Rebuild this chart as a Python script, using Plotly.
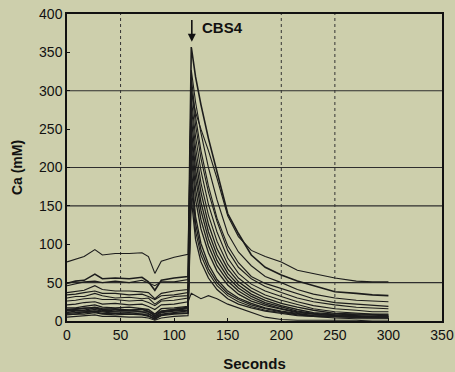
import plotly.graph_objects as go

# time points (seconds)
t_pre = [0, 8, 16, 26, 33, 45, 58, 70, 76, 82, 88, 100, 113]
t_post = [116, 120, 125, 132, 140, 150, 160, 172, 185, 200, 215, 230, 250, 270, 285, 300]

# Ca (mM) series, pre-stimulus values then post-stimulus values
ca_a_pre = [77, 80, 84, 93, 86, 88, 88, 89, 84, 62, 78, 83, 87]
ca_a_post = [300, 272, 250, 222, 186, 137, 110, 92, 84, 77, 66, 62, 56, 52, 51, 51]
ca_b_pre = [49, 52, 53, 61, 55, 56, 55, 57, 51, 40, 53, 56, 58]
ca_b_post = [357, 318, 282, 238, 196, 140, 114, 86, 70, 60, 52, 46, 38, 36, 34, 33]
ca_c_pre = [46, 48, 51, 52, 50, 52, 50, 53, 50, 46, 51, 51, 54]
ca_c_post = [327, 285, 245, 200, 158, 114, 90, 72, 58, 50, 41, 35, 30, 27, 26, 25]
ca_d_pre = [37, 39, 40, 46, 41, 39, 39, 38, 37, 29, 36, 39, 41]
ca_d_post = [318, 266, 222, 176, 134, 98, 76, 58, 49, 42, 36, 29, 24, 22, 20, 19]
ca_e_pre = [34, 35, 37, 39, 36, 36, 34, 35, 32, 28, 33, 34, 37]
ca_e_post = [305, 255, 212, 168, 130, 92, 70, 55, 45, 37, 30, 25, 21, 18, 17, 16]
ca_f_pre = [30, 32, 32, 36, 33, 30, 31, 29, 30, 22, 28, 32, 33]
ca_f_post = [290, 240, 196, 152, 116, 82, 62, 48, 39, 32, 25, 20, 16, 14, 12, 12]
ca_g_pre = [26, 27, 29, 30, 28, 28, 26, 27, 24, 20, 26, 27, 30]
ca_g_post = [280, 226, 180, 138, 104, 74, 56, 43, 34, 27, 21, 16, 12, 10, 9, 9]
ca_q_pre = [21, 22, 24, 25, 22, 23, 21, 22, 19, 15, 21, 22, 25]
ca_q_post = [36, 33, 29, 33, 29, 22, 17, 11, 5, 2, 1, 1, 1, 1, 0, 0]
ca_h_pre = [17, 17, 19, 21, 18, 17, 18, 16, 15, 9, 16, 17, 19]
ca_h_post = [265, 212, 168, 126, 94, 68, 51, 39, 30, 23, 18, 14, 10, 9, 8, 8]
ca_i_pre = [14, 15, 17, 17, 15, 16, 14, 15, 13, 6, 13, 15, 18]
ca_i_post = [250, 198, 155, 116, 86, 62, 47, 35, 27, 20, 15, 11, 9, 8, 7, 7]
ca_j_pre = [13, 14, 14, 17, 14, 13, 14, 12, 12, 7, 12, 14, 16]
ca_j_post = [240, 186, 144, 107, 79, 57, 43, 32, 24, 18, 13, 10, 8, 7, 6, 6]
ca_k_pre = [11, 13, 13, 15, 13, 12, 12, 12, 10, 4, 11, 13, 14]
ca_k_post = [228, 172, 132, 98, 72, 52, 39, 29, 22, 16, 12, 9, 7, 6, 5, 5]
ca_l_pre = [10, 11, 12, 13, 12, 10, 11, 9, 9, 5, 9, 11, 13]
ca_l_post = [215, 158, 120, 89, 65, 47, 35, 26, 20, 15, 11, 9, 7, 6, 6, 6]
ca_m_pre = [9, 9, 11, 12, 10, 10, 9, 9, 7, 2, 8, 10, 11]
ca_m_post = [200, 136, 101, 74, 54, 39, 30, 23, 17, 13, 10, 7, 6, 5, 4, 4]
ca_n_pre = [15, 16, 16, 18, 16, 15, 14, 15, 12, 9, 13, 15, 17]
ca_n_post = [188, 127, 93, 68, 50, 36, 28, 21, 16, 12, 9, 7, 6, 5, 5, 5]
ca_o_pre = [5, 6, 7, 8, 6, 6, 5, 5, 4, 1, 4, 6, 7]
ca_o_post = [175, 117, 86, 63, 46, 33, 25, 19, 14, 11, 8, 6, 4, 3, 3, 3]
ca_p_pre = [8, 9, 9, 11, 9, 8, 9, 8, 6, 3, 7, 9, 10]
ca_p_post = [160, 106, 77, 56, 41, 29, 22, 17, 13, 10, 7, 6, 5, 4, 4, 4]

series = [
    (ca_a_pre, ca_a_post, 1.1), (ca_b_pre, ca_b_post, 1.6), (ca_c_pre, ca_c_post, 1.1),
    (ca_d_pre, ca_d_post, 1.1), (ca_e_pre, ca_e_post, 1.1), (ca_f_pre, ca_f_post, 1.1),
    (ca_g_pre, ca_g_post, 1.1), (ca_q_pre, ca_q_post, 1.1), (ca_h_pre, ca_h_post, 1.3),
    (ca_i_pre, ca_i_post, 1.3), (ca_j_pre, ca_j_post, 1.3), (ca_k_pre, ca_k_post, 1.3),
    (ca_l_pre, ca_l_post, 1.3), (ca_m_pre, ca_m_post, 1.3), (ca_n_pre, ca_n_post, 1.3),
    (ca_o_pre, ca_o_post, 1.1), (ca_p_pre, ca_p_post, 1.3),
]

x_ticks = [0, 50, 100, 150, 200, 250, 300, 350]
y_ticks = [0, 50, 100, 150, 200, 250, 300, 350, 400]
h_grid = [50, 150, 200, 300]
v_grid = [50, 200, 250]

BG = "#cdcfac"
FONT = "Liberation Sans, Arial, sans-serif"

fig = go.Figure()
for pre, post, w in series:
    fig.add_trace(go.Scatter(x=t_pre + t_post, y=pre + post, mode="lines",
                             line=dict(color="#1c1c1c", width=w), showlegend=False,
                             hoverinfo="skip"))

shapes = []
for yv in h_grid:
    shapes.append(dict(type="line", xref="x", yref="y", x0=0, x1=350, y0=yv, y1=yv,
                       line=dict(color="#2e2e2e", width=1.2), layer="below"))
for xv in v_grid:
    shapes.append(dict(type="line", xref="x", yref="y", x0=xv, x1=xv, y0=0, y1=400,
                       line=dict(color="#333333", width=1, dash="dot"), layer="below"))

fig.update_layout(
    width=455, height=372,
    margin=dict(l=67, r=13, t=14, b=51, autoexpand=False),
    paper_bgcolor=BG, plot_bgcolor=BG,
    font=dict(family=FONT, size=14, color="#111111"),
    shapes=shapes,
    xaxis=dict(range=[0, 350], tickvals=x_ticks, showgrid=False, zeroline=False,
               showline=True, mirror=True, linecolor="#111111", linewidth=1.5,
               ticks="inside", ticklen=3, tickcolor="#111111", automargin=False,
               title=dict(text="<b>Seconds</b>", font=dict(size=15), standoff=18)),
    yaxis=dict(range=[0, 400], tickvals=y_ticks, showgrid=False, zeroline=False,
               showline=True, mirror=True, linecolor="#111111", linewidth=1.5,
               ticks="inside", ticklen=3, tickcolor="#111111", automargin=False,
               title=dict(text="<b>Ca (mM)</b>", font=dict(size=14), standoff=13)),
    annotations=[
        dict(x=116.5, y=364, xref="x", yref="y", ax=116.5, ay=394, axref="x", ayref="y",
             text="", showarrow=True, arrowhead=2, arrowsize=1, arrowwidth=1.6,
             arrowcolor="#111111"),
        dict(x=124, y=382, xref="x", yref="y", text="<b>CBS4</b>", showarrow=False,
             xanchor="left", yanchor="middle", font=dict(size=15, color="#111111")),
    ],
)

fig.write_html("out.html", config={"displayModeBar": False},
               post_script="document.body.style.margin='0';document.body.style.background='" + BG + "';")
